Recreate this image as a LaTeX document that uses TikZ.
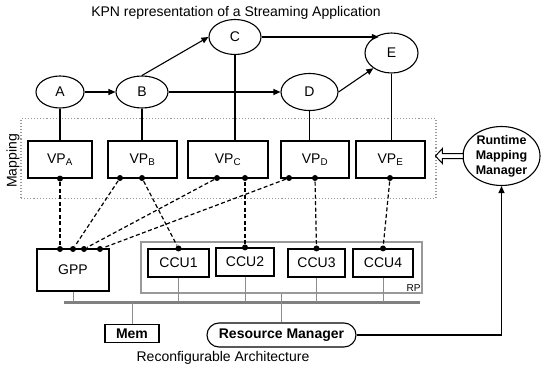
\documentclass[tikz,border=0pt]{standalone}
\usepackage{fontspec}
\setmainfont{Liberation Sans}
\usetikzlibrary{arrows.meta,shapes.geometric}

\begin{document}
\begin{tikzpicture}[x=1pt,y=-1pt,
  font=\fontsize{14}{16}\selectfont,
  line width=1.1pt,
  procnode/.style={draw,ellipse,inner sep=0pt},
  vpbox/.style={draw,rectangle,minimum height=37pt,inner sep=0pt},
  hwbox/.style={draw,rectangle,inner sep=0pt},
  joint/.style={circle,fill,inner sep=0pt,minimum size=6pt},
  graywire/.style={black!45,line width=1pt},
  mapline/.style={line width=1.2pt,dash pattern=on 4pt off 2.5pt},
  flowarrow/.style={-{Triangle[length=7pt,width=6pt]}},
  boldtext/.style={font=\fontsize{14}{15}\selectfont\bfseries}]
\useasboundingbox (0,0) rectangle (541,369);

% application graph
\node (title) at (236,13) {KPN representation of a Streaming Application};
\node[procnode,minimum width=48pt,minimum height=32pt] (A) at (60,92) {A};
\node[procnode,minimum width=52pt,minimum height=32pt] (B) at (142,92) {B};
\node[procnode,minimum width=52pt,minimum height=35pt] (C) at (235,37) {C};
\node[procnode,minimum width=57pt,minimum height=37pt] (D) at (309.5,92) {D};
\node[procnode,minimum width=53pt,minimum height=40pt] (E) at (391.5,53) {E};
\draw[flowarrow] (A) -- (B);
\draw[flowarrow] (B.north) -- (C.west);
\draw[flowarrow] (B) -- (D);
\draw[flowarrow] (C.east) -- (C.east -| E.125);
\draw[flowarrow] (D.east) -- (E.220);

% mapping layer
\node[draw=black!40,dotted,minimum width=415pt,minimum height=80pt,inner sep=0pt] (map) at (228.5,158.5) {};
\node[rotate=90] (maplabel) at (13,161) {Mapping};
\node[vpbox,minimum width=64pt] (VPA) at (60,159.5) {VP\textsubscript{A}};
\node[vpbox,minimum width=69pt] (VPB) at (142.5,159.5) {VP\textsubscript{B}};
\node[vpbox,minimum width=80pt] (VPC) at (228,159.5) {VP\textsubscript{C}};
\node[vpbox,minimum width=68pt] (VPD) at (315,159.5) {VP\textsubscript{D}};
\node[vpbox,minimum width=69pt] (VPE) at (390.5,159.5) {VP\textsubscript{E}};
\draw (A.south) -- (A.south |- VPA.north);
\draw (B.south) -- (B.south |- VPB.north);
\draw (C.south) -- (C.south |- VPC.north);
\draw (D.south) -- (D.south |- VPD.north);
\draw (E.south) -- (E.south |- VPE.north);

% runtime mapping manager
\node[procnode,minimum width=77pt,minimum height=56pt,align=center,font=\fontsize{12.5}{15}\selectfont\bfseries] (RMM) at (501.5,156) {Runtime\\Mapping\\Manager};
\draw[fill=white,line width=1pt] (RMM.west) ++(1,-2.5) -- ++(-21,0) -- ++(0,-5) -- ++(-7,7.5) -- ++(7,7.5) -- ++(0,-5) -- ++(21,0) -- cycle;

% architecture
\node[draw=black!40,minimum width=281pt,minimum height=51pt,inner sep=0pt] (RP) at (281.5,267.5) {};
\node[anchor=south east,inner sep=1.5pt,font=\fontsize{10}{12}\selectfont] (rplabel) at (RP.south east) {RP};
\node[hwbox,minimum width=72pt,minimum height=42pt] (GPP) at (73,270) {GPP};
\node[hwbox,minimum width=61pt,minimum height=28pt] (CCU1) at (178.5,263) {CCU1};
\node[hwbox,minimum width=58pt,minimum height=28pt] (CCU2) at (245,262) {CCU2};
\node[hwbox,minimum width=57pt,minimum height=28pt] (CCU3) at (316.5,263) {CCU3};
\node[hwbox,minimum width=60pt,minimum height=28pt] (CCU4) at (383,263) {CCU4};
\coordinate (busL) at (64,302);
\coordinate (busR) at (420,302);
\draw[black!50,line width=3pt] (busL) -- (busR);
\node[hwbox,minimum width=54pt,minimum height=18pt,boldtext] (Mem) at (132,333.5) {Mem};
\node[draw,rounded corners=12pt,minimum width=149pt,minimum height=24pt,inner sep=0pt,boldtext] (RM) at (281.5,335) {Resource Manager};
\node (archlabel) at (223,358) {Reconfigurable Architecture};
\draw[graywire] (GPP.south) -- (GPP.south |- busL);
\draw[graywire] (CCU1.south) -- (CCU1.south |- busL);
\draw[graywire] (CCU2.south) -- (CCU2.south |- busL);
\draw[graywire] (CCU3.south) -- (CCU3.south |- busL);
\draw[graywire] (CCU4.south) -- (CCU4.south |- busL);
\draw[graywire] (Mem.north) -- (Mem.north |- busL);
\draw[graywire] (RM.north) -- (RM.north |- RP.south);
\draw[flowarrow] (RM.east) -| (RMM.south);

% mapping links
\node[joint] (a1) at (VPA.south) {};
\node[joint] (b1) at (120,178) {};
\node[joint] (b2) at (142,178) {};
\node[joint] (c1) at (217,178) {};
\node[joint] (c2) at (245,178) {};
\node[joint] (d1) at (289,178) {};
\node[joint] (d2) at (315,178) {};
\node[joint] (e1) at (390,178) {};
\node[joint] (g1) at (60,249) {};
\node[joint] (g2) at (73,249) {};
\node[joint] (g3) at (84,249) {};
\node[joint] (g4) at (100,249) {};
\node[joint] (k1) at (CCU1.north) {};
\node[joint] (k2) at (CCU2.north) {};
\node[joint] (k3) at (CCU3.north) {};
\node[joint] (k4) at (CCU4.north) {};
\draw[mapline] (a1) -- (g1);
\draw[mapline] (b1) -- (g2);
\draw[mapline] (c1) -- (g3);
\draw[mapline] (d1) -- (g4);
\draw[mapline] (b2) -- (k1);
\draw[mapline] (c2) -- (k2);
\draw[mapline] (d2) -- (k3);
\draw[mapline] (e1) -- (k4);
\end{tikzpicture}
\end{document}
